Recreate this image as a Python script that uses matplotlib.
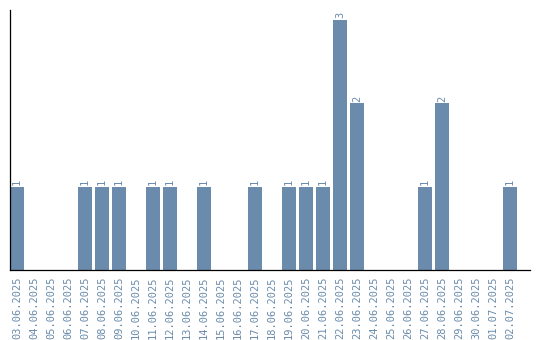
import numpy as np
import matplotlib
matplotlib.use("Agg")
import matplotlib.pyplot as plt

# Daily counts
dates = ["03.06.2025", "04.06.2025", "05.06.2025", "06.06.2025", "07.06.2025",
         "08.06.2025", "09.06.2025", "10.06.2025", "11.06.2025", "12.06.2025",
         "13.06.2025", "14.06.2025", "15.06.2025", "16.06.2025", "17.06.2025",
         "18.06.2025", "19.06.2025", "20.06.2025", "21.06.2025", "22.06.2025",
         "23.06.2025", "24.06.2025", "25.06.2025", "26.06.2025", "27.06.2025",
         "28.06.2025", "29.06.2025", "30.06.2025", "01.07.2025", "02.07.2025"]
counts = [1, 0, 0, 0, 1, 1, 1, 0, 1, 1,
          0, 1, 0, 0, 1, 0, 1, 1, 1, 3,
          2, 0, 0, 0, 1, 2, 0, 0, 0, 1]

bar_color = "#6a8bab"

fig = plt.figure(figsize=(5.4, 3.4), dpi=100)
ax = fig.add_axes([0.0185, 0.206, 0.9630, 0.765])

x = np.arange(len(dates))
bars = ax.bar(x, counts, width=0.82, color=bar_color)

# value labels on non-zero bars
for xi, v in zip(x, counts):
    if v > 0:
        ax.text(xi, v + 0.02, str(v), rotation=90, ha="center", va="bottom",
                fontsize=7.5, color=bar_color, family="DejaVu Sans Mono")

ax.set_xlim(-0.41, 30.18)
ax.set_ylim(0, 3.12)
ax.set_xticks(x)
ax.set_xticklabels(dates, rotation=90, fontsize=7.5, color=bar_color,
                   family="DejaVu Sans Mono")
ax.tick_params(axis="x", length=0, pad=5)
ax.set_yticks([])
ax.spines["top"].set_visible(False)
ax.spines["right"].set_visible(False)
ax.spines["left"].set_linewidth(0.9)
ax.spines["bottom"].set_linewidth(0.9)

fig.savefig("out.png", dpi=100)
